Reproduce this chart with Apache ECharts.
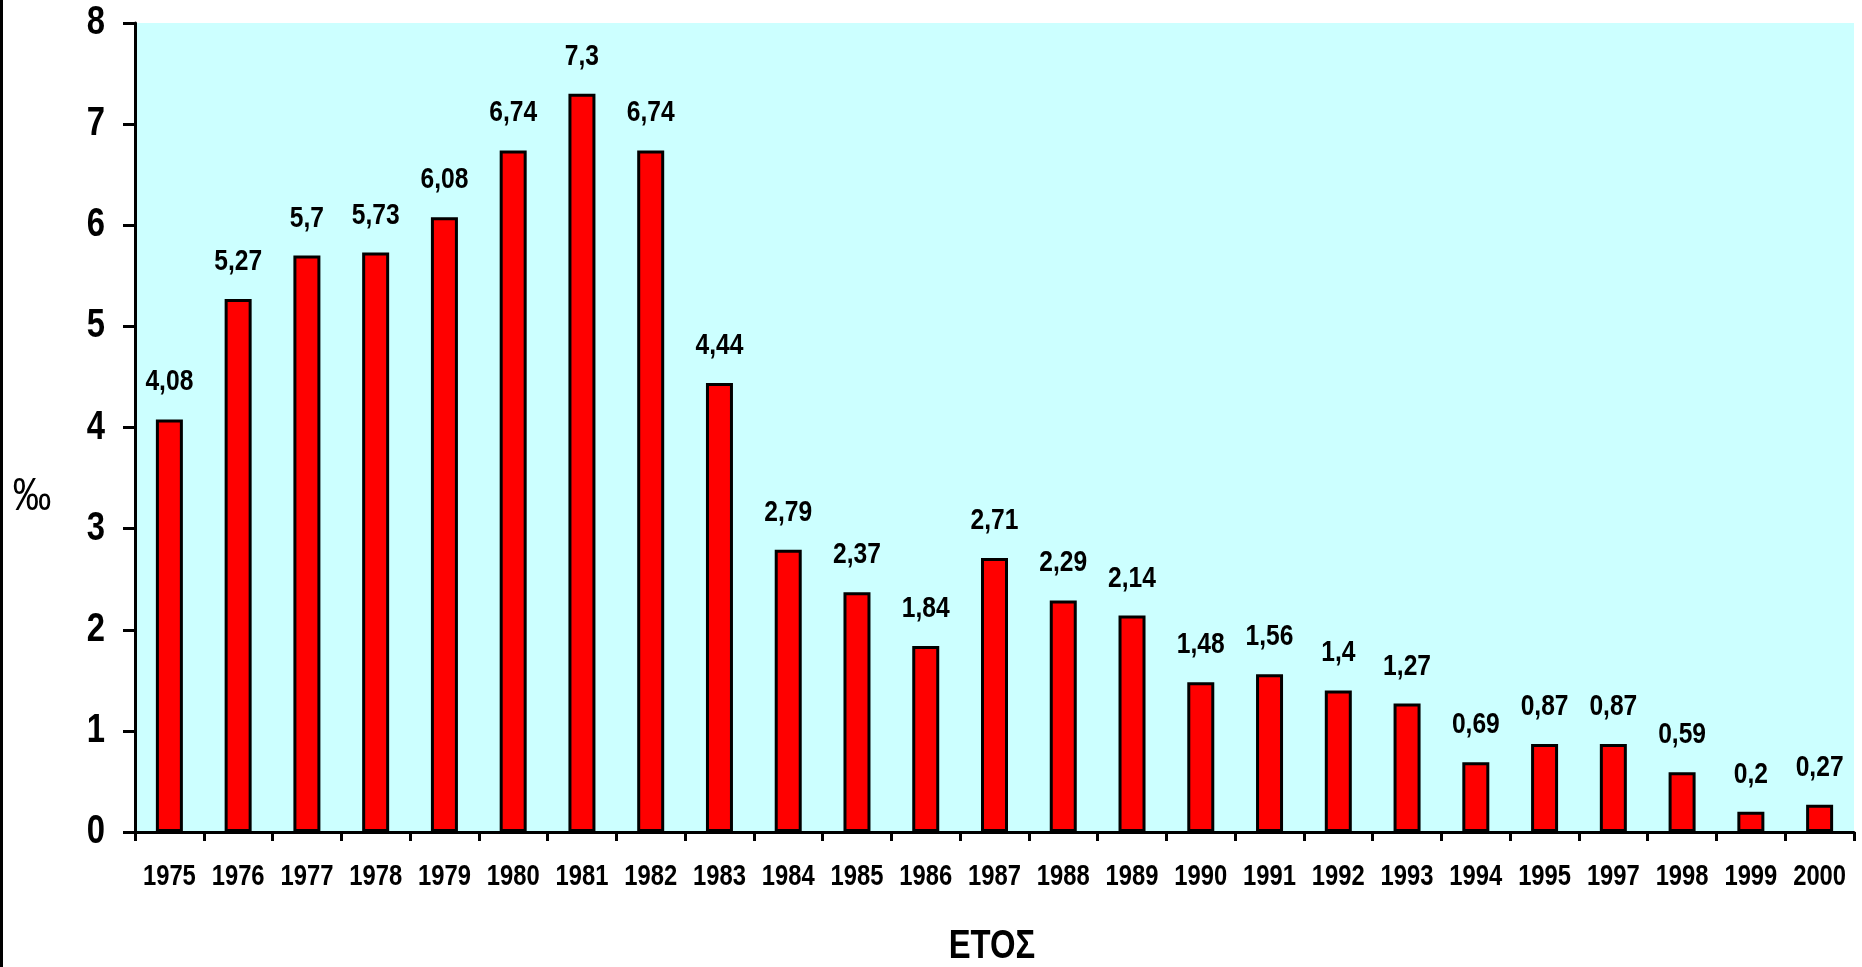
<!DOCTYPE html>
<html>
<head>
<meta charset="utf-8">
<script src="https://cdn.jsdelivr.net/npm/echarts@6/dist/echarts.min.js"></script>
<style>
html,body{margin:0;padding:0;background:#fff;}
#c{width:1862px;height:967px;}
</style>
</head>
<body>
<div id="c"></div>
<script>
var categories = ['1975','1976','1977','1978','1979','1980','1981','1982','1983','1984','1985','1986','1987','1988','1989','1990','1991','1992','1993','1994','1995','1997','1998','1999','2000'];
var values = [4.08,5.27,5.7,5.73,6.08,6.74,7.3,6.74,4.44,2.79,2.37,1.84,2.71,2.29,2.14,1.48,1.56,1.4,1.27,0.69,0.87,0.87,0.59,0.2,0.27];
var yTicks = [0,1,2,3,4,5,6,7,8];
var xTitle = 'ΕΤΟΣ';
var yTitle = '‰';

// The reference uses a narrow (Arial Narrow-like) face; none is installed,
// so draw the installed sans face horizontally condensed.
(function () {
  var S = 0.82;
  var P = CanvasRenderingContext2D.prototype;
  var ft = P.fillText, st = P.strokeText, mt = P.measureText;
  P.fillText = function (t, x, y, w) {
    this.save(); this.translate(x, y); this.scale(S, 1);
    if (w === undefined) ft.call(this, t, 0, 0); else ft.call(this, t, 0, 0, w / S);
    this.restore();
  };
  P.strokeText = function (t, x, y, w) {
    this.save(); this.translate(x, y); this.scale(S, 1);
    if (w === undefined) st.call(this, t, 0, 0); else st.call(this, t, 0, 0, w / S);
    this.restore();
  };
  P.measureText = function (t) {
    var m = mt.call(this, t);
    return {
      width: m.width * S,
      actualBoundingBoxLeft: m.actualBoundingBoxLeft * S,
      actualBoundingBoxRight: m.actualBoundingBoxRight * S,
      actualBoundingBoxAscent: m.actualBoundingBoxAscent,
      actualBoundingBoxDescent: m.actualBoundingBoxDescent,
      fontBoundingBoxAscent: m.fontBoundingBoxAscent,
      fontBoundingBoxDescent: m.fontBoundingBoxDescent
    };
  };
})();

var FONT = '"Liberation Sans Narrow","Arial Narrow","Liberation Sans",Arial,sans-serif';
var chart = echarts.init(document.getElementById('c'), null, {renderer: 'canvas'});
chart.setOption({
  backgroundColor: '#ffffff',
  animation: false,
  grid: {left: 135, right: 8, top: 23, bottom: 135, backgroundColor: '#CCFFFF', show: true, borderWidth: 0},
  xAxis: {
    type: 'category',
    data: categories,
    boundaryGap: true,
    axisLine: {lineStyle: {color: '#000', width: 3}},
    axisTick: {show: true, length: 9, alignWithLabel: false, lineStyle: {color: '#000', width: 3}},
    axisLabel: {interval: 0, margin: 33, color: '#000', fontFamily: FONT, fontWeight: 'bold', fontSize: 29}
  },
  yAxis: {
    type: 'value',
    min: yTicks[0],
    max: yTicks[yTicks.length - 1],
    interval: 1,
    splitLine: {show: false},
    axisLine: {show: true, lineStyle: {color: '#000', width: 3}},
    axisTick: {show: true, length: 12, lineStyle: {color: '#000', width: 3}},
    axisLabel: {margin: 30, color: '#000', fontFamily: FONT, fontWeight: 'bold', fontSize: 40}
  },
  graphic: [
    {type: 'rect', left: 0, top: 0, shape: {width: 3, height: 967}, style: {fill: '#000'}},
    {type: 'text', x: 32, y: 497, style: {text: yTitle, font: '47px ' + FONT, fill: '#000', align: 'center', verticalAlign: 'middle'}},
    {type: 'text', x: 992, y: 947, style: {text: xTitle, font: 'bold 40px ' + FONT, fill: '#000', align: 'center', verticalAlign: 'middle'}}
  ],
  series: [{
    type: 'bar',
    data: values,
    barWidth: 27,
    itemStyle: {color: '#FF0000', borderColor: '#000', borderWidth: 3},
    label: {
      show: true,
      position: 'top',
      distance: 25,
      color: '#000',
      fontFamily: FONT,
      fontWeight: 'bold',
      fontSize: 30,
      formatter: function (p) { return String(p.value).replace('.', ','); }
    }
  }]
});
</script>
</body>
</html>
